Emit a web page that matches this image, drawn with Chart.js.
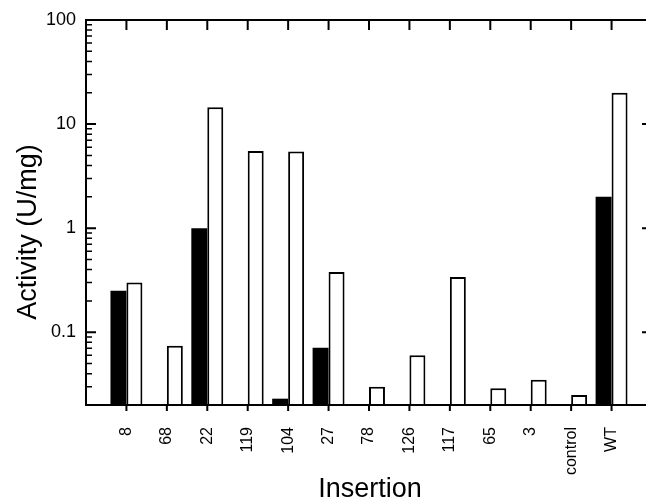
<!DOCTYPE html>
<html lang="en">
<head>
<meta charset="UTF-8">
<title>Activity by insertion</title>
<style>
  html, body { margin: 0; padding: 0; overflow: hidden; background: #fff; }
  canvas { display: block; }
</style>
</head>
<body>
<canvas id="myChart" width="660" height="498"></canvas>
<script src="https://cdn.jsdelivr.net/npm/chart.js"></script>
<script>
const insertions = ['8', '68', '22', '119', '104', '27', '78', '126', '117', '65', '3', 'control', 'WT'];
const blackValues = [0.25, null, 1.0, null, 0.023, 0.071, null, null, null, null, null, null, 2.0];
const whiteValues = [0.30, 0.074, 14.5, 5.5, 5.45, 0.38, 0.030, 0.060, 0.34, 0.029, 0.035, 0.025, 20];
const yTickLabels = [0.1, 1, 10, 100];
const yMin = 0.02, yMax = 100;

// one empty slot at each end so the axis starts a full category before "8"
const labels = [''].concat(insertions, ['']);
const pad = arr => [null].concat(arr, [null]);

const FONT = '"Liberation Sans", Arial, Helvetica, sans-serif';

const frame = {
  id: 'frame',
  afterDatasetsDraw(chart) {
    const { ctx, chartArea: a, scales: { x, y } } = chart;
    ctx.save();
    ctx.strokeStyle = '#000';
    ctx.lineWidth = 2;
    ctx.strokeRect(a.left, a.top, a.right - a.left, a.bottom - a.top);

    // category ticks: inward on top, outward on bottom
    ctx.beginPath();
    for (let i = 1; i <= insertions.length; i++) {
      const px = x.getPixelForTick(i);
      ctx.moveTo(px, a.top); ctx.lineTo(px, a.top + 10);
      ctx.moveTo(px, a.bottom); ctx.lineTo(px, a.bottom + 6);
    }
    // decade ticks, left and right
    for (let e = -2; e <= 2; e++) {
      const v = Math.pow(10, e);
      if (v < yMin || v > yMax) continue;
      const py = y.getPixelForValue(v);
      ctx.moveTo(a.left, py); ctx.lineTo(a.left + 10, py);
      ctx.moveTo(a.right, py); ctx.lineTo(a.right - 10, py);
    }
    ctx.stroke();

    // minor ticks on the left
    ctx.lineWidth = 1.5;
    ctx.beginPath();
    for (let e = -2; e <= 1; e++) {
      for (let m = 2; m < 10; m++) {
        const v = m * Math.pow(10, e);
        if (v < yMin * 0.999 || v > yMax) continue;
        const py = y.getPixelForValue(v);
        ctx.moveTo(a.left, py); ctx.lineTo(a.left + 6, py);
      }
    }
    ctx.stroke();

    // axis titles
    ctx.fillStyle = '#000';
    ctx.font = '27px ' + FONT;
    ctx.textAlign = 'center';
    ctx.textBaseline = 'alphabetic';
    ctx.fillText('Insertion', 370, 497);
    ctx.translate(36, 232);
    ctx.rotate(-Math.PI / 2);
    ctx.fillText('Activity (U/mg)', 0, 0);
    ctx.restore();
  }
};

const data = {
  labels: labels,
  datasets: [{
    label: 'black',
    data: pad(blackValues),
    backgroundColor: '#000',
    borderWidth: 0
  }, {
    label: 'white',
    data: pad(whiteValues),
    backgroundColor: '#fff',
    borderColor: '#000',
    borderWidth: 2,
    borderSkipped: 'start'
  }]
};

const config = {
  type: 'bar',
  data: data,
  options: {
    responsive: false,
    animation: false,
    layout: { padding: { left: 0, top: 20, right: 8, bottom: 0 } },
    datasets: { bar: { barPercentage: 1.0, categoryPercentage: 0.79 } },
    plugins: { legend: { display: false }, tooltip: { enabled: false } },
    scales: {
      x: {
        offset: false,
        grid: { display: false, drawTicks: false },
        border: { display: false },
        ticks: {
          autoSkip: false,
          minRotation: 90,
          maxRotation: 90,
          padding: 22,
          color: '#000',
          font: { family: FONT, size: 16 }
        },
        afterFit(scale) {
          scale.height = 93;
          scale.paddingLeft = 0;
          scale.paddingRight = 0;
        }
      },
      y: {
        type: 'logarithmic',
        min: yMin,
        max: yMax,
        grid: { display: false, drawTicks: false },
        border: { display: false },
        ticks: {
          autoSkip: false,
          padding: 10,
          color: '#000',
          font: { family: FONT, size: 18 },
          callback: function (value) {
            const hit = yTickLabels.find(t => Math.abs(t - value) < t * 1e-6);
            return hit === undefined ? '' : String(hit);
          }
        },
        afterFit(scale) {
          scale.width = 86;
          scale.paddingTop = 0;
          scale.paddingBottom = 0;
        }
      }
    }
  },
  plugins: [frame]
};

const context = document.getElementById('myChart').getContext('2d');
const myChart = new Chart(context, config);
</script>
</body>
</html>
